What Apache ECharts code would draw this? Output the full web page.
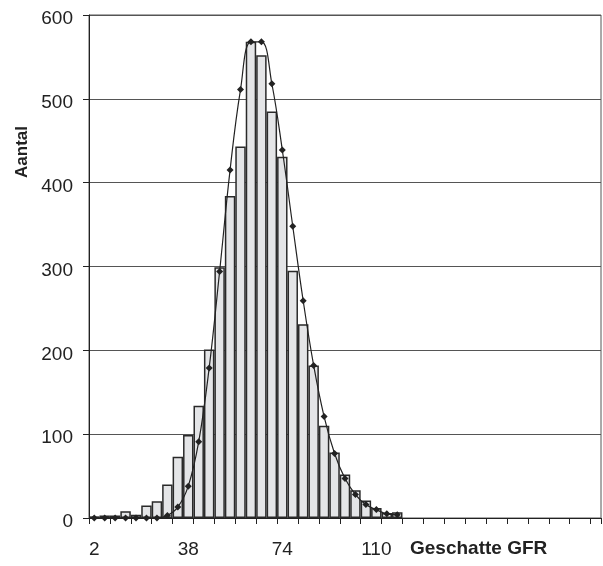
<!DOCTYPE html>
<html>
<head>
<meta charset="utf-8">
<script src="https://cdn.jsdelivr.net/npm/echarts@6/dist/echarts.min.js"></script>
<style>
  html, body { margin: 0; padding: 0; background: #fff; }
  #chart { width: 603px; height: 566px; }
</style>
</head>
<body>
<div id="chart"></div>
<script>
// klassen (midden van elke klasse, breedte 4)
var categories = ['2','6','10','14','18','22','26','30','34','38','42','46','50','54','58','62','66','70','74','78',
  '82','86','90','94','98','102','106','110','114','118','122','126','130','134','138','142','146','150','154','158',
  '162','166','170','174','178','182','186','190','194'];
// aantallen per klasse (histogram)
var aantal = [2, 3, 3, 8, 4, 15, 20, 40, 73, 99, 134, 201, 299, 384, 443, 568, 552, 485, 431, 295,
  231, 182, 110, 78, 52, 33, 21, 12, 6, 7];
// verwachte aantallen (curve)
var verwacht = [0, 0, 0, 0, 0, 0, 0, 3, 13, 38, 91, 179, 294, 415, 511, 568, 568, 518, 439, 348,
  259, 182, 121, 77, 47, 28, 16, 10, 5, 4];
// labels die op de x-as staan
var shownLabels = ['2', '38', '74', '110'];
var yTicks = [0, 100, 200, 300, 400, 500, 600];

var myChart = echarts.init(document.getElementById('chart'));
var font = "'Liberation Sans Narrow', 'Liberation Sans', Arial, sans-serif";
var boldFont = "'Liberation Sans', Arial, sans-serif";
var option = {
    animation: false,
    backgroundColor: '#fff',
    grid: {
        left: 89, right: 2, top: 15, bottom: 48,
        show: true,
        borderColor: '#555',
        borderWidth: 1
    },
    xAxis: {
        type: 'category',
        data: categories,
        boundaryGap: true,
        axisLine: { lineStyle: { color: '#222', width: 1 } },
        axisTick: { show: true, interval: 1, length: 6, lineStyle: { color: '#222', width: 1 } },
        axisLabel: {
            interval: 0,
            margin: 22,
            color: '#222',
            fontFamily: font,
            fontSize: 19,
            formatter: function (v) {
                return shownLabels.indexOf(v) >= 0 ? v : '';
            }
        },
        splitLine: { show: false }
    },
    yAxis: {
        type: 'value',
        min: yTicks[0],
        max: yTicks[yTicks.length - 1],
        interval: 100,
        axisLine: { show: true, lineStyle: { color: '#222', width: 1 } },
        axisTick: { show: true, inside: false, length: 6, lineStyle: { color: '#222' } },
        axisLabel: {
            margin: 16,
            color: '#222',
            fontFamily: font,
            fontSize: 19,
            verticalAlign: 'top',
            lineHeight: 8
        },
        splitLine: { lineStyle: { color: '#555', width: 1 } }
    },
    graphic: [
        {
            type: 'text',
            left: 14, top: 126,
            rotation: Math.PI / 2,
            style: {
                text: 'Aantal',
                fill: '#222',
                font: "bold 17px " + boldFont
            }
        },
        {
            type: 'text',
            left: 410, top: 539,
            style: {
                text: 'Geschatte GFR',
                fill: '#222',
                font: "bold 19px " + boldFont
            }
        }
    ],
    series: [
        {
            name: 'Aantal',
            type: 'bar',
            data: aantal,
            barCategoryGap: '0%',
            itemStyle: {
                color: '#e4e5e7',
                borderColor: '#2a2a2a',
                borderWidth: 1.5
            },
            z: 2
        },
        {
            name: 'Verwacht',
            type: 'line',
            data: verwacht,
            smooth: 0.4,
            symbol: 'diamond',
            symbolSize: 7,
            itemStyle: { color: '#222' },
            lineStyle: { color: '#222', width: 1.2 },
            z: 3
        }
    ]
};
myChart.setOption(option);
</script>
</body>
</html>
